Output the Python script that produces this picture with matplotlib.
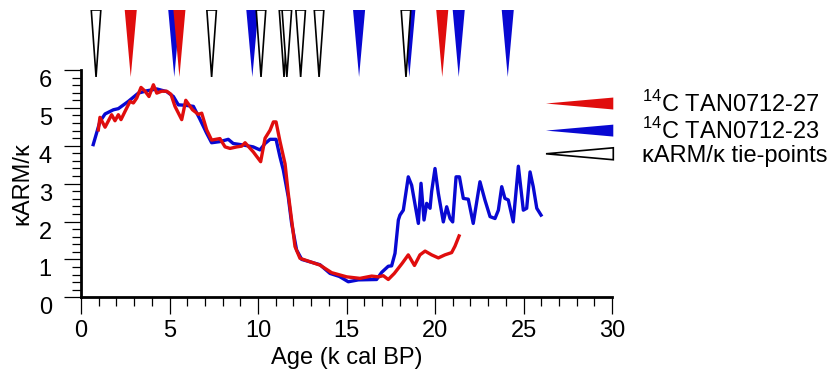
import numpy as np
import matplotlib
matplotlib.use("Agg")
import matplotlib.pyplot as plt
from matplotlib.patches import Polygon
from matplotlib.legend_handler import HandlerPatch

plt.rcParams['font.family'] = ['Liberation Sans', 'DejaVu Sans']
plt.rcParams['mathtext.fontset'] = 'custom'
plt.rcParams['mathtext.rm'] = 'Liberation Sans'
plt.rcParams['font.size'] = 17

# kARM/k records (age in k cal BP)
age_23 = [0.69, 1.07, 1.36, 1.83, 2.11, 2.67, 3.24, 3.71, 4.28, 4.84, 5.22, 5.50, 5.88,
          6.35, 6.72, 7.10, 7.38, 7.85, 8.32, 8.60, 9.17, 9.73, 10.11, 10.40, 10.68,
          11.02, 11.24, 11.43, 11.71, 11.90, 12.18, 12.47, 13.50, 14.07, 14.60, 15.10,
          15.67, 16.70, 16.99, 17.36, 17.55, 17.74, 17.93, 18.02, 18.21, 18.49, 18.68,
          19.06, 19.21, 19.38, 19.53, 19.72, 19.81, 20.00, 20.19, 20.47, 20.66, 20.85,
          21.00, 21.19, 21.38, 21.60, 21.88, 22.16, 22.54, 22.82, 23.11, 23.39, 23.58,
          23.77, 23.95, 24.14, 24.42, 24.71, 24.99, 25.18, 25.37, 25.55, 25.75, 25.99]
karm_23 = [4.03, 4.64, 4.84, 4.95, 4.98, 5.17, 5.39, 5.45, 5.50, 5.43, 5.30, 5.08, 5.07,
           5.04, 4.70, 4.33, 4.08, 4.11, 4.17, 4.06, 4.02, 3.97, 3.89, 4.06, 4.17,
           4.17, 3.71, 3.36, 2.65, 1.95, 1.25, 1.00, 0.86, 0.63, 0.55, 0.41,
           0.46, 0.47, 0.66, 0.82, 0.83, 1.16, 2.04, 2.17, 2.30, 3.18, 2.96,
           1.95, 3.01, 2.04, 2.48, 2.35, 2.79, 3.40, 2.74, 1.99, 2.39, 2.08,
           1.99, 3.18, 3.18, 2.61, 2.59, 1.95, 3.05, 2.57, 2.13, 2.08, 2.30,
           2.92, 2.61, 2.57, 1.99, 3.46, 2.30, 2.35, 3.31, 2.92, 2.35, 2.17]

age_27 = [0.98, 1.07, 1.36, 1.73, 1.92, 2.11, 2.26, 2.49, 2.77, 2.96, 3.15, 3.39, 3.62,
          3.84, 4.09, 4.28, 4.56, 4.84, 5.08, 5.31, 5.69, 5.92, 6.30, 6.63, 6.82, 7.10,
          7.38, 7.85, 8.14, 8.42, 8.80, 9.08, 9.27, 9.73, 10.15, 10.40, 10.68, 10.87,
          11.02, 11.24, 11.53, 11.71, 11.90, 12.09, 12.37, 13.50, 14.16, 15.01, 15.76,
          16.42, 16.80, 17.08, 17.36, 17.70, 18.15, 18.49, 18.84, 19.15, 19.44, 19.81,
          20.19, 20.56, 20.94, 21.13, 21.36]
karm_27 = [4.42, 4.75, 4.49, 4.82, 4.66, 4.82, 4.69, 4.91, 5.17, 5.13, 5.26, 5.54, 5.44,
           5.30, 5.61, 5.39, 5.44, 5.44, 5.36, 5.04, 4.69, 5.20, 4.95, 4.83, 4.86, 4.42,
           4.15, 4.19, 3.97, 3.93, 3.97, 3.99, 4.08, 3.84, 3.58, 4.20, 4.41, 4.63,
           4.63, 4.12, 3.52, 2.74, 2.04, 1.34, 1.03, 0.85, 0.65, 0.54, 0.50,
           0.56, 0.54, 0.57, 0.47, 0.63, 0.90, 1.12, 0.84, 1.12, 1.22, 1.12,
           1.04, 1.12, 1.18, 1.35, 1.62]

# tie-point ages
c14_27 = [2.81, 5.56, 20.41]
c14_23 = [5.27, 9.68, 15.71, 18.55, 21.34, 24.11]
tie_pts = [0.85, 7.38, 10.17, 11.47, 11.63, 12.41, 13.45, 18.36]

red = '#e00d0d'
blue = '#0808d2'

W, H = 838, 378
fig = plt.figure(figsize=(W / 100, H / 100), dpi=100)
ax = fig.add_axes([81 / W, 1 - 297.3 / H, 531 / W, 227.3 / H])
tx = fig.add_axes([81 / W, 1 - 77 / H, 531 / W, 67 / H], sharex=ax)

ax.plot(age_23, karm_23, color=blue, lw=2.4, solid_joinstyle='round')
ax.plot(age_27, karm_27, color=red, lw=2.4, solid_joinstyle='round')

ax.set_xlim(0, 30)
ax.set_ylim(0, 6)
ax.set_xticks(np.arange(0, 31, 5))
ax.set_xticks(np.arange(0, 31, 1), minor=True)
ax.set_yticks(np.arange(0, 7, 1))
ax.set_yticks(np.arange(0, 6.01, 0.2), minor=True)
for s in ['top', 'right']:
    ax.spines[s].set_visible(False)
for s in ['left', 'bottom']:
    ax.spines[s].set_linewidth(2)
ax.tick_params(which='major', direction='out', length=12, width=0.9, labelsize=17)
ax.tick_params(which='minor', direction='out', length=6.5, width=0.9)
ax.tick_params(axis='x', pad=4)
ax.tick_params(axis='y', pad=9)
plt.setp(ax.get_yticklabels(), va='top')
ax.set_xlabel('Age (k cal BP)', fontsize=17, labelpad=4)
ax.set_ylabel('κARM/κ', fontsize=17, labelpad=4)


def wedge(x, half, fc, ec, lw):
    return Polygon([(x - half, 1), (x + half, 1), (x, 0)], closed=True,
                   facecolor=fc, edgecolor=ec, lw=lw)


for a in c14_23:
    tx.add_patch(wedge(a, 0.34, blue, 'none', 0))
for a in c14_27:
    tx.add_patch(wedge(a, 0.34, red, 'none', 0))
for a in tie_pts:
    tx.add_patch(wedge(a, 0.27, 'white', 'black', 1.2))
tx.set_ylim(0, 1)
tx.axis('off')


def make_wedge(legend, orig_handle, xdescent, ydescent, width, height, fontsize):
    y0 = -ydescent + height / 2
    h = 4.3
    return Polygon([(-xdescent, y0), (-xdescent + width, y0 + h),
                    (-xdescent + width, y0 - h)], closed=True)


handles = [Polygon([[0, 0]], facecolor=red, edgecolor='none'),
           Polygon([[0, 0]], facecolor=blue, edgecolor='none'),
           Polygon([[0, 0]], facecolor='white', edgecolor='black', lw=1.2)]
labels = ['$^{14}$C TAN0712-27', '$^{14}$C TAN0712-23', 'κARM/κ tie-points']
fig.legend(handles, labels, loc='upper left', bbox_to_anchor=(546 / W, 1 - 91 / H),
           frameon=False, fontsize=17, handlelength=2.85, handleheight=0.5,
           handletextpad=1.2, labelspacing=0.05, borderpad=0, borderaxespad=0,
           handler_map={Polygon: HandlerPatch(patch_func=make_wedge)})

fig.savefig('out.png', dpi=100)
